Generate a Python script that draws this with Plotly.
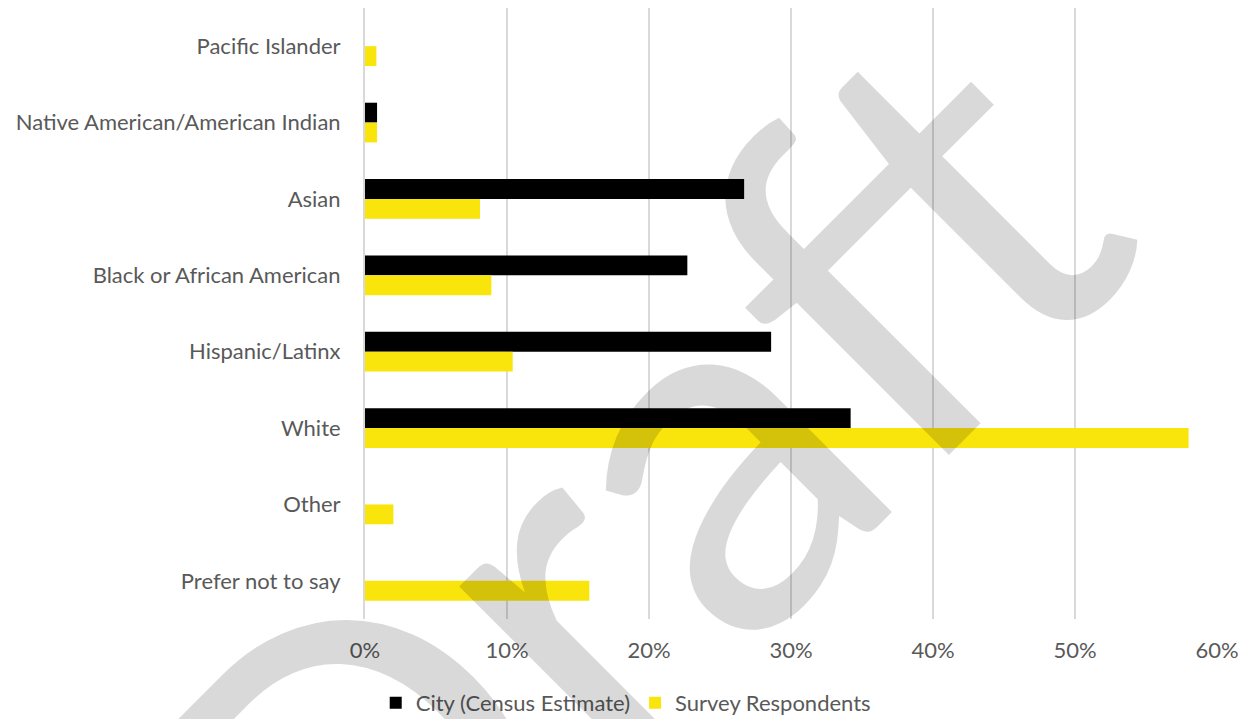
import plotly.graph_objects as go

categories = ["Pacific Islander", "Native American/American Indian", "Asian",
              "Black or African American", "Hispanic/Latinx", "White", "Other",
              "Prefer not to say"]
city = [0.0, 0.85, 26.7, 22.7, 28.6, 34.2, 0.0, 0.0]
survey = [0.8, 0.85, 8.1, 8.9, 10.4, 58.0, 2.0, 15.8]
tick_vals = [0, 10, 20, 30, 40, 50, 60]
tick_text = ["0%", "10%", "20%", "30%", "40%", "50%", "60%"]

FONT = "Lato, 'Open Sans', sans-serif"
TXT = "#595959"

fig = go.Figure()
fig.add_trace(go.Bar(y=categories, x=city, orientation="h",
                     name="City (Census Estimate)",
                     marker=dict(color="#000000", line=dict(width=0))))
fig.add_trace(go.Bar(y=categories, x=survey, orientation="h",
                     name="Survey Respondents",
                     marker=dict(color="#F9E40C", line=dict(width=0))))

fig.update_layout(
    width=1250, height=719,
    barmode="group", bargap=0.48, bargroupgap=0,
    plot_bgcolor="white", paper_bgcolor="white",
    margin=dict(l=357, r=41, t=0, b=108, autoexpand=False),
    font=dict(family=FONT, size=22, color=TXT),
    xaxis=dict(range=[0, 60], tickvals=tick_vals, ticktext=tick_text,
               showgrid=True, gridcolor="#D9D9D9", gridwidth=2,
               zeroline=False, showline=False, ticks="",
               ticklabelstandoff=16, automargin=False, tickangle=0,
               tickfont=dict(size=22, color=TXT)),
    yaxis=dict(autorange="reversed", showgrid=False, zeroline=False,
               showline=True, linecolor="#D9D9D9", linewidth=2,
               ticks="", ticklabelstandoff=18, automargin=False,
               tickfont=dict(size=22, color=TXT)),
    legend=dict(orientation="h", x=0.306, xanchor="center",
                y=-0.1375, yanchor="middle",
                font=dict(size=22, color=TXT), itemwidth=30),
    showlegend=True,
)

# "Draft" watermark overlay
fig.add_annotation(
    text="Draft", xref="paper", yref="paper", x=0.293, y=0.17,
    xanchor="center", yanchor="middle",
    showarrow=False, textangle=-45,
    font=dict(family="Lato, sans-serif", size=500, color="rgba(0,0,0,0.15)"),
)

fig.write_html("out.html")
